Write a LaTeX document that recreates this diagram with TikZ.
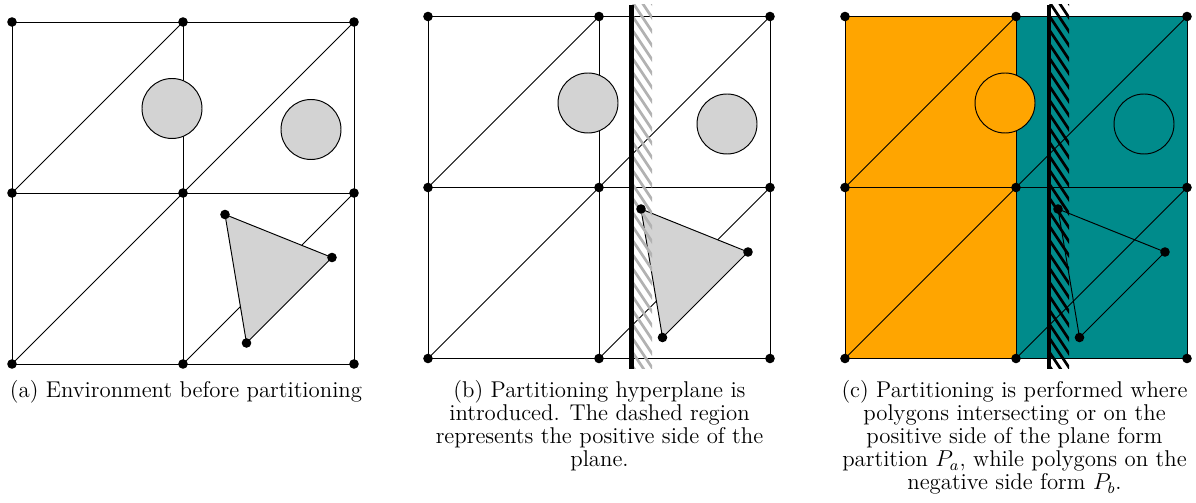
\documentclass[tikz,border=0pt]{standalone}
\definecolor{fillgray}{RGB}{211,211,211}
\definecolor{parta}{RGB}{255,165,0}
\definecolor{partb}{RGB}{0,139,139}
\definecolor{hatchgray}{RGB}{178,178,178}
\tikzset{
  gridline/.style={line width=0.5pt},
  shapeline/.style={line width=0.5pt},
  planeline/.style={line width=2.1pt},
  hatchline/.style={line width=1.4pt},
  caption/.style={anchor=north, inner sep=0pt, align=center, font=\fontsize{11.9}{12}\selectfont},
}
\newcommand{\gridlines}{%
  \coordinate (g00) at (0,0);   \coordinate (g10) at (171,0);   \coordinate (g20) at (342,0);
  \coordinate (g01) at (0,171); \coordinate (g11) at (171,171); \coordinate (g21) at (342,171);
  \coordinate (g02) at (0,342); \coordinate (g12) at (171,342); \coordinate (g22) at (342,342);
  \draw[gridline] (g00) rectangle (g22);
  \draw[gridline] (g01) -- (g21);
  \draw[gridline] (g10) -- (g12);
  \draw[gridline] (g01) -- (g10);
  \draw[gridline] (g11) -- (g20);
  \draw[gridline] (g02) -- (g11);
  \draw[gridline] (g12) -- (g21);
}
\newcommand{\griddots}{%
  \foreach \p in {g00,g10,g20,g01,g11,g21,g02,g12,g22} \fill (\p) circle (2.5pt);
  \foreach \p in {t1,t2,t3} \fill (\p) circle (2.5pt);
}
\newcommand{\tricoords}{%
  \coordinate (t1) at (213,192.5);
  \coordinate (t2) at (320,235.5);
  \coordinate (t3) at (234.5,321);
  \coordinate (c1) at (160,86.5);
  \coordinate (c2) at (299,107.5);
}
\newcommand{\plane}[1]{%
  \begin{scope}
    \clip (204,-11.5) rectangle (224,352.5);
    \foreach \k in {-5,...,28} \draw[hatchline,#1] (194,\k*14-16) -- (234,\k*14+44);
  \end{scope}
  \draw[planeline] (203.5,-11.5) -- (203.5,352.5);
}
\begin{document}
\begin{tikzpicture}[x=0.5217pt,y=-0.5217pt]
\useasboundingbox (0,0) rectangle (1196,503);

% (a)
\begin{scope}[shift={(12,22)}]
  \tricoords
  \gridlines
  \filldraw[shapeline, fill=fillgray] (c1) circle (15.65pt);
  \filldraw[shapeline, fill=fillgray] (c2) circle (15.65pt);
  \filldraw[shapeline, fill=fillgray] (t1) -- (t2) -- (t3) -- cycle;
  \griddots
\end{scope}

% (b)
\begin{scope}[shift={(428,16.5)}]
  \tricoords
  \gridlines
  \filldraw[shapeline, fill=fillgray] (c1) circle (15.65pt);
  \filldraw[shapeline, fill=fillgray] (c2) circle (15.65pt);
  \filldraw[shapeline, fill=fillgray] (t1) -- (t2) -- (t3) -- cycle;
  \plane{hatchgray}
  \griddots
\end{scope}

% (c)
\begin{scope}[shift={(845,16.5)}]
  \tricoords
  \fill[parta] (0,0) rectangle (171,342);
  \fill[partb] (171,0) rectangle (342,342);
  \gridlines
  \filldraw[shapeline, fill=parta] (c1) circle (15.65pt);
  \filldraw[shapeline, fill=partb] (c2) circle (15.65pt);
  \draw[shapeline] (t1) -- (t2) -- (t3) -- cycle;
  \plane{black}
  \griddots
\end{scope}

\node[caption] (capa) at (186,380.5) {(a) Environment before partitioning};
\node[caption] (capb) at (599.5,380.5) {(b) Partitioning hyperplane is\\introduced. The dashed region\\represents the positive side of the\\plane.};
\node[caption] (capc) at (1014.5,380.5) {(c) Partitioning is performed where\\polygons intersecting or on the\\positive side of the plane form\\partition $P_a$, while polygons on the\\negative side form $P_b$.};
\end{tikzpicture}
\end{document}
